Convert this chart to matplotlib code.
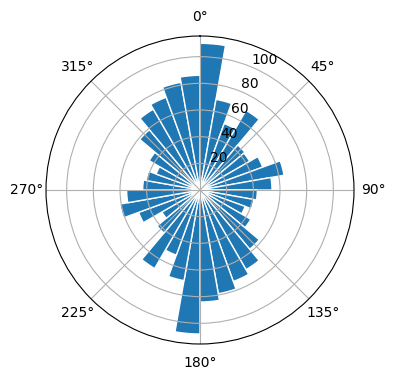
import numpy as np
import matplotlib
matplotlib.use("Agg")
import matplotlib.pyplot as plt

# Direction bins (start of each 10-degree sector) and counts per sector
directions_deg = [0, 10, 20, 30, 40, 50, 60, 70, 80,
                  90, 100, 110, 120, 130, 140, 150, 160, 170,
                  180, 190, 200, 210, 220, 230, 240, 250, 260,
                  270, 280, 290, 300, 310, 320, 330, 340, 350]
counts = [110, 69, 53, 69, 44, 43, 50, 64, 54,
          43, 41, 36, 44, 58, 69, 73, 79, 84,
          108, 69, 52, 68, 42, 33, 49, 61, 55,
          43, 41, 35, 44, 59, 70, 74, 82, 86]
sector_width_deg = 10

fig = plt.figure(figsize=(3.96, 3.8), dpi=100)
ax = fig.add_axes([46/396, 36/380, 308/396, 308/380], projection='polar')
ax.set_theta_zero_location('N')
ax.set_theta_direction(-1)

theta = np.deg2rad(directions_deg)
ax.bar(theta, counts, width=np.deg2rad(sector_width_deg), align='edge',
       color='#1f77b4', edgecolor='white', linewidth=1)

fig.savefig('out.png', dpi=100)
